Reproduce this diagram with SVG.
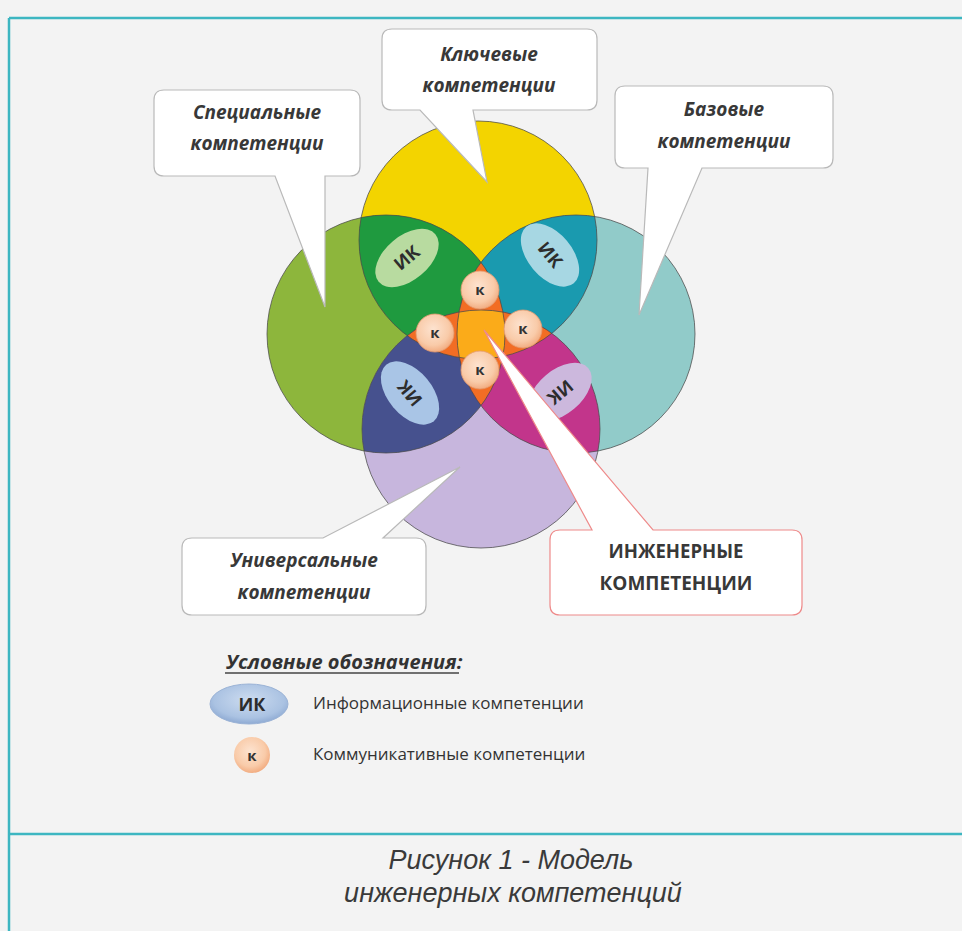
<svg xmlns="http://www.w3.org/2000/svg" width="962" height="931" viewBox="0 0 962 931">
<defs>
<style>
.bg{fill:#f3f3f3}
.frame{stroke:#3db6c1;stroke-width:2.5;fill:none}
.ring{fill:none;stroke:#4a4a4a;stroke-width:1;stroke-opacity:.75}
.callout{fill:#fff;stroke:#b9b9b9;stroke-width:1.2}
.callout-red{fill:#fff;stroke:#ee8a8a;stroke-width:1.2}
.ct{font-family:"Open Sans","Noto Sans",sans-serif;font-weight:700;font-style:italic;font-size:19px;fill:#383838;text-anchor:middle}
.ctu{font-family:"Open Sans","Noto Sans",sans-serif;font-weight:700;font-size:20px;fill:#383838;text-anchor:middle}
.ik{font-family:"Open Sans","Noto Sans",sans-serif;font-weight:700;font-size:18px;fill:#2d2d2d;text-anchor:middle}
.k{font-family:"Open Sans","Noto Sans",sans-serif;font-weight:700;font-size:15px;fill:#333;text-anchor:middle}
.lg{font-family:"Open Sans","Noto Sans",sans-serif;font-size:17px;fill:#333}
.lgh{font-family:"Open Sans","Noto Sans",sans-serif;font-weight:700;font-style:italic;font-size:20px;fill:#333}
.cap{font-family:"Liberation Sans",Arial,sans-serif;font-style:italic;font-size:27px;fill:#3a3a3a;text-anchor:middle}
.tri{fill:#f26d24}
</style>
<clipPath id="cY"><circle cx="478" cy="240" r="119"/></clipPath>
<clipPath id="cG"><circle cx="386" cy="334" r="119"/></clipPath>
<clipPath id="cT"><circle cx="576" cy="334" r="119"/></clipPath>
<clipPath id="cP"><circle cx="481" cy="429" r="119"/></clipPath>
<radialGradient id="gk" cx="45%" cy="40%" r="60%">
<stop offset="0" stop-color="#fde3d0"/><stop offset="0.7" stop-color="#f9cba9"/><stop offset="1" stop-color="#f2ad82"/>
</radialGradient>
<radialGradient id="gik" cx="50%" cy="40%" r="60%">
<stop offset="0" stop-color="#cddcf0"/><stop offset="0.75" stop-color="#aac2e2"/><stop offset="1" stop-color="#8eaad3"/>
</radialGradient>
</defs>

<rect class="bg" x="0" y="0" width="962" height="931"/>
<g id="frame">
<line class="frame" x1="9" y1="18" x2="962" y2="18"/>
<line class="frame" x1="9" y1="18" x2="9" y2="931"/>
<line class="frame" x1="9" y1="834" x2="962" y2="834"/>
</g>

<g id="venn">
<circle cx="478" cy="240" r="119" fill="#f3d400"/>
<circle cx="386" cy="334" r="119" fill="#8db63c"/>
<circle cx="576" cy="334" r="119" fill="#91cbc9"/>
<circle cx="481" cy="429" r="119" fill="#c7b6dd"/>
<circle cx="386" cy="334" r="119" fill="#1f9a3f" clip-path="url(#cY)"/>
<circle cx="576" cy="334" r="119" fill="#1a9aaf" clip-path="url(#cY)"/>
<circle cx="386" cy="334" r="119" fill="#46518e" clip-path="url(#cP)"/>
<circle cx="576" cy="334" r="119" fill="#c2358b" clip-path="url(#cP)"/>
<g clip-path="url(#cY)"><circle class="tri" cx="386" cy="334" r="119" clip-path="url(#cT)"/></g>
<g clip-path="url(#cY)"><circle class="tri" cx="386" cy="334" r="119" clip-path="url(#cP)"/></g>
<g clip-path="url(#cY)"><circle class="tri" cx="576" cy="334" r="119" clip-path="url(#cP)"/></g>
<g clip-path="url(#cG)"><circle class="tri" cx="576" cy="334" r="119" clip-path="url(#cP)"/></g>
<g clip-path="url(#cY)"><g clip-path="url(#cG)"><circle cx="481" cy="429" r="119" fill="#fbab19" clip-path="url(#cT)"/></g></g>
<circle class="ring" cx="478" cy="240" r="119"/>
<circle class="ring" cx="386" cy="334" r="119"/>
<circle class="ring" cx="576" cy="334" r="119"/>
<circle class="ring" cx="481" cy="429" r="119"/>
</g>

<g id="ik-1" transform="translate(407,258) rotate(-40)">
<ellipse rx="37" ry="22" fill="#b8dba0"/>
<text class="ik" x="0" y="6">ИК</text>
</g>
<g id="ik-2" transform="translate(550,255) rotate(50)">
<ellipse rx="37" ry="22" fill="#a7d7e3"/>
<text class="ik" x="0" y="6">ИК</text>
</g>
<g id="ik-3" transform="translate(410,393) rotate(230)">
<ellipse rx="37" ry="22" fill="#a9c5e6"/>
<text class="ik" x="0" y="6">ИК</text>
</g>
<g id="ik-4" transform="translate(560,392) rotate(140)">
<ellipse rx="37" ry="22" fill="#ccb8dd"/>
<text class="ik" x="0" y="6">ИК</text>
</g>

<g id="k-top"><circle cx="480" cy="290" r="19" fill="url(#gk)" stroke="#e59a70" stroke-width="0.8"/><text class="k" x="480" y="295">к</text></g>
<g id="k-left"><circle cx="435" cy="333" r="19" fill="url(#gk)" stroke="#e59a70" stroke-width="0.8"/><text class="k" x="435" y="338">к</text></g>
<g id="k-right"><circle cx="523" cy="329" r="19" fill="url(#gk)" stroke="#e59a70" stroke-width="0.8"/><text class="k" x="523" y="334">к</text></g>
<g id="k-bottom"><circle cx="480" cy="370" r="19" fill="url(#gk)" stroke="#e59a70" stroke-width="0.8"/><text class="k" x="480" y="375">к</text></g>

<g id="callout-special">
<path class="callout" d="M164,90 H350 Q360,90 360,100 V166 Q360,176 350,176 H325 L325,307 L275,176 H164 Q154,176 154,166 V100 Q154,90 164,90 Z"/>
<text class="ct" x="257" y="119">Специальные</text>
<text class="ct" x="257" y="150">компетенции</text>
</g>
<g id="callout-key">
<path class="callout" d="M392,29 H587 Q597,29 597,39 V100 Q597,110 587,110 H473 L487,182 L420,110 H392 Q382,110 382,100 V39 Q382,29 392,29 Z"/>
<text class="ct" x="489" y="61">Ключевые</text>
<text class="ct" x="489" y="92">компетенции</text>
</g>
<g id="callout-base">
<path class="callout" d="M625,86 H823 Q833,86 833,96 V158 Q833,168 823,168 H702 L639,315 L648,168 H625 Q615,168 615,158 V96 Q615,86 625,86 Z"/>
<text class="ct" x="724" y="116">Базовые</text>
<text class="ct" x="724" y="148">компетенции</text>
</g>
<g id="callout-universal">
<path class="callout" d="M192,538 H323 L460,467 L383,538 H416 Q426,538 426,548 V605 Q426,615 416,615 H192 Q182,615 182,605 V548 Q182,538 192,538 Z"/>
<text class="ct" x="304" y="567">Универсальные</text>
<text class="ct" x="304" y="599">компетенции</text>
</g>
<g id="callout-engineering">
<path class="callout-red" d="M560,530 H592 L484,330 L653,530 H792 Q802,530 802,540 V605 Q802,615 792,615 H560 Q550,615 550,605 V540 Q550,530 560,530 Z"/>
<text class="ctu" x="676" y="558" textLength="135" lengthAdjust="spacingAndGlyphs">ИНЖЕНЕРНЫЕ</text>
<text class="ctu" x="676" y="590" textLength="153" lengthAdjust="spacingAndGlyphs">КОМПЕТЕНЦИИ</text>
</g>

<g id="legend">
<text class="lgh" x="226" y="669">Условные обозначения:</text>
<line x1="225" y1="673" x2="459" y2="673" stroke="#444" stroke-width="1.5"/>
<g id="legend-ik">
<ellipse cx="249" cy="704" rx="39" ry="20" fill="url(#gik)" stroke="#9bb3d6" stroke-width="1"/>
<text class="ik" x="252" y="711" font-size="20">ИК</text>
<text class="lg" x="313" y="709">Информационные компетенции</text>
</g>
<g id="legend-k">
<circle cx="252" cy="755" r="18" fill="url(#gk)"/>
<text class="k" x="252" y="761">к</text>
<text class="lg" x="313" y="760">Коммуникативные компетенции</text>
</g>
</g>

<g id="caption">
<text class="cap" x="511" y="869">Рисунок 1 - Модель</text>
<text class="cap" x="513" y="902">инженерных компетенций</text>
</g>
</svg>
